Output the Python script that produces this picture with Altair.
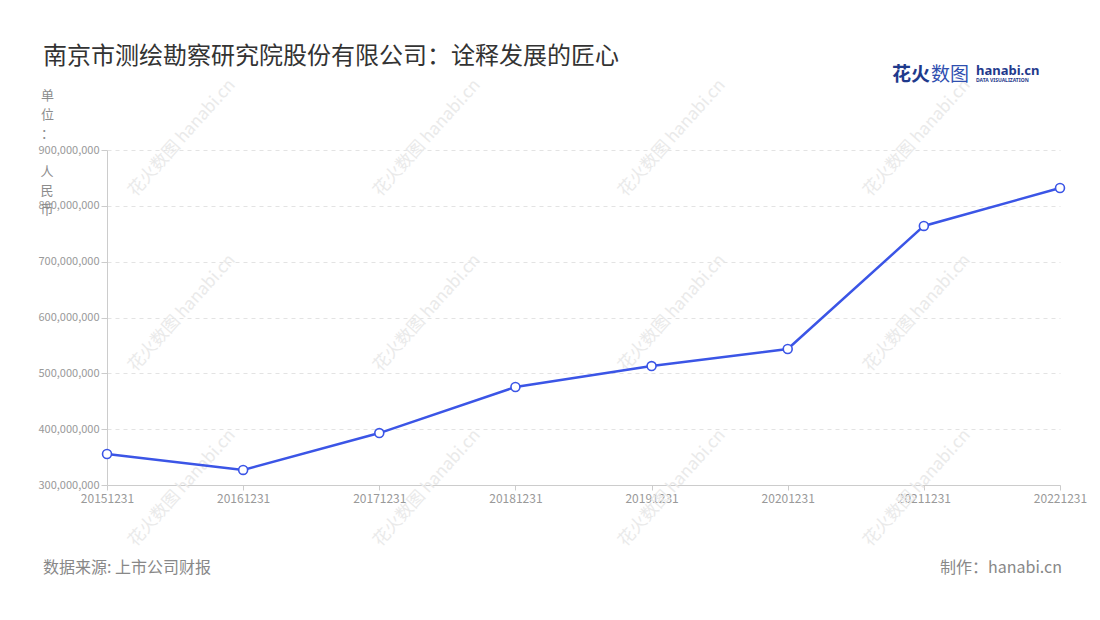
import altair as alt
import pandas as pd

dates = ["20151231", "20161231", "20171231", "20181231", "20191231", "20201231", "20211231", "20221231"]
revenue = [355500000, 327000000, 393000000, 475500000, 513000000, 543500000, 764000000, 832000000]
y_ticks = [300000000, 400000000, 500000000, 600000000, 700000000, 800000000, 900000000]

title_text = "南京市测绘勘察研究院股份有限公司：诠释发展的匠心"
unit_lines_top = ["单", "位", "："]
unit_lines_bottom = "人\n民\n币"
source_text = "数据来源: 上市公司财报"
maker_text = "制作：hanabi.cn"
wm_text = "花火数图 hanabi.cn"

W, H = 953, 335
FONT = "Noto Sans CJK SC"
BLUE = "#3b55e6"
UNIT_COLOR = "#8c8c8c"
LOGO = "#1f3a8c"

df = pd.DataFrame({"date": dates, "value": revenue})

base = alt.Chart(df)

x_enc = alt.X("date:O", scale=alt.Scale(type="point", padding=0), sort=dates,
              axis=alt.Axis(title=None, labelAngle=0, labelFontSize=12, labelColor="#999999",
                            labelFont=FONT, tickColor="#cccccc", tickSize=5, domainColor="#cccccc",
                            labelPadding=3, grid=False))
y_enc = alt.Y("value:Q", scale=alt.Scale(domain=[300000000, 900000000], nice=False, zero=False),
              axis=alt.Axis(values=y_ticks, format=",.0f", labelFontSize=11, labelColor="#999999",
                            labelFont=FONT, tickColor="#cccccc", tickSize=6, domainColor="#cccccc",
                            gridColor="#e3e3e3", gridDash=[4, 4], labelPadding=2,
                            title=unit_lines_top, titleAngle=0, titleFontSize=13, titleFont=FONT,
                            titleFontWeight="normal", titleColor=UNIT_COLOR, titleLineHeight=19,
                            titleX=-60, titleY=-61, titleAlign="center", titleBaseline="top"))

# watermarks
wm_df = pd.DataFrame({
    "px": [c for r in range(3) for c in [75, 320, 565, 810]],
    "py": [r for r in range(3) for c in range(4)],
})
wm_df["py"] = wm_df["py"] * 175 - 12
wm = alt.Chart(wm_df).mark_text(angle=312, fontSize=17, font=FONT, color="#eaeaea",
                                align="center", baseline="middle").encode(
    x=alt.X("px:Q", scale=None, axis=None), y=alt.Y("py:Q", scale=None, axis=None),
    text=alt.value(wm_text))

line = base.mark_line(color=BLUE, strokeWidth=2.5).encode(x=x_enc, y=y_enc)
pts = base.mark_point(filled=True, fill="white", stroke=BLUE, strokeWidth=1.6, size=80,
                      opacity=1).encode(x=x_enc, y=y_enc)

one = pd.DataFrame({"k": [0]})
unit2 = alt.Chart(one).mark_text(text=unit_lines_bottom, lineBreak="\n", lineHeight=19,
                                 fontSize=13, font=FONT, color=UNIT_COLOR, align="center",
                                 baseline="top").encode(x=alt.value(-60), y=alt.value(16))
title = alt.Chart(one).mark_text(text=title_text, fontSize=24, font=FONT, color="#333333",
                                 align="left", baseline="alphabetic").encode(
    x=alt.value(-64), y=alt.value(-86))
logo1a = alt.Chart(one).mark_text(text="花火", fontSize=19, font=FONT, color=LOGO,
                                  fontWeight="bold", align="left", baseline="alphabetic").encode(
    x=alt.value(785), y=alt.value(-69))
logo1b = alt.Chart(one).mark_text(text="数图", fontSize=19, font=FONT, color="#2f4fb0",
                                  fontWeight="normal", align="left", baseline="alphabetic").encode(
    x=alt.value(824), y=alt.value(-69))
logo2 = alt.Chart(one).mark_text(text="hanabi.cn", fontSize=13, font="Noto Sans", color=LOGO,
                                 fontWeight="bold", align="left", baseline="alphabetic").encode(
    x=alt.value(869), y=alt.value(-75))
logo3 = alt.Chart(one).mark_text(text="DATA VISUALIZATION", fontSize=5, font="Noto Sans",
                                 color=LOGO, fontWeight="bold", align="left",
                                 baseline="alphabetic").encode(x=alt.value(869), y=alt.value(-68))
src = alt.Chart(one).mark_text(text=source_text, fontSize=16, font=FONT, color="#888888",
                               align="left", baseline="alphabetic").encode(
    x=alt.value(-64), y=alt.value(423))
mk = alt.Chart(one).mark_text(text=maker_text, fontSize=16, font=FONT, color="#888888",
                              align="right", baseline="alphabetic").encode(
    x=alt.value(955), y=alt.value(423))

chart = alt.layer(wm, line, pts, unit2, title, logo1a, logo1b, logo2, logo3, src, mk).properties(
    width=W, height=H,
    autosize=alt.AutoSizeParams(type="none"),
    padding={"left": 99, "top": 142, "right": 30, "bottom": 100},
    background="white",
).configure_view(stroke=None)

chart.save("out.html", embed_options={"renderer": "svg", "actions": False})
